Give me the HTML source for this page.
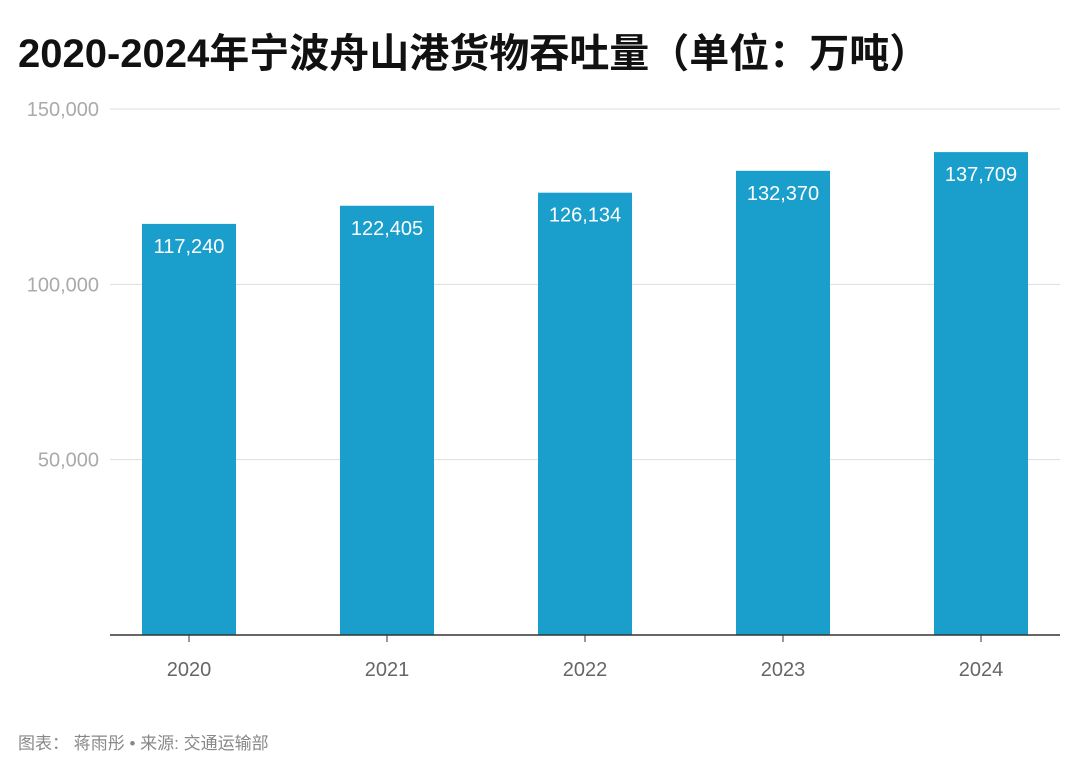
<!DOCTYPE html>
<html><head><meta charset="utf-8"><style>
body{margin:0;background:#fff;width:1080px;height:774px;overflow:hidden;font-family:"Liberation Sans","Noto Sans CJK SC",sans-serif}
</style></head><body>
<svg width="1080" height="774">
<text x="18" y="67" font-size="40" font-weight="bold" fill="#111" font-family="Liberation Sans, Noto Sans CJK SC, sans-serif">2020-2024年宁波舟山港货物吞吐量（单位：万吨）</text>
<g id="grid"></g><g id="bars"></g>
<line x1="110" x2="1060" y1="635" y2="635" stroke="#333" stroke-width="1.5"/>
<text x="18" y="749" font-size="17" fill="#888" font-family="Liberation Sans, Noto Sans CJK SC, sans-serif">图表： 蒋雨彤 • 来源: 交通运输部</text>
</svg>
<script>
const categories=['2020','2021','2022','2023','2024'];
const values=[117240,122405,126134,132370,137709];
const yTicks=[50000,100000,150000];
const ns='http://www.w3.org/2000/svg';
const y=v=>635-v*(526/150000);
const xc=i=>189+i*198;
function mk(t,a,p){const e=document.createElementNS(ns,t);for(const k in a)e.setAttribute(k,a[k]);p.appendChild(e);return e;}
const g=document.getElementById('grid'),b=document.getElementById('bars');
yTicks.forEach(t=>{
const l=mk('line',{x1:110,x2:1060,y1:y(t),y2:y(t),stroke:'#ddd','stroke-width':1},g);


const tx=mk('text',{x:99,y:y(t)+7,'text-anchor':'end','font-size':20,fill:'#aaa'},g);
tx.textContent=t.toLocaleString('en-US');


});
categories.forEach((c,i)=>{
const r=mk('rect',{x:xc(i)-47,y:y(values[i]),width:94,height:635-y(values[i]),fill:'#1a9fcc'},b);


const vt=mk('text',{x:xc(i),y:y(values[i])+29,'text-anchor':'middle','font-size':20,fill:'#fff'},b);
vt.textContent=values[i].toLocaleString('en-US');


const tk=mk('line',{x1:xc(i),x2:xc(i),y1:635,y2:642,stroke:'#333'},b);


const ct=mk('text',{x:xc(i),y:676,'text-anchor':'middle','font-size':20,fill:'#666'},b);
ct.textContent=c;


});
</script>
</body></html>
